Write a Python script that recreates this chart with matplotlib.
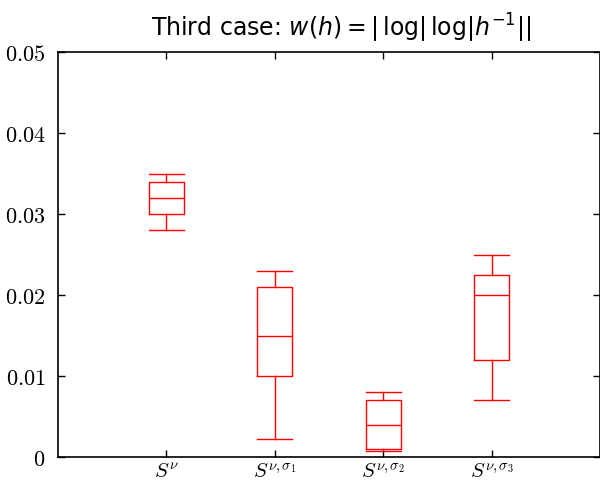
import matplotlib
matplotlib.use("Agg")
import matplotlib.pyplot as plt

plt.rcParams['mathtext.fontset'] = 'cm'

# box statistics
labels = [r'$S^{\nu}$', r'$S^{\nu,\sigma_1}$', r'$S^{\nu,\sigma_2}$', r'$S^{\nu,\sigma_3}$']
whislo = [0.028, 0.0022, 0.0007, 0.007]
q1 = [0.030, 0.010, 0.001, 0.012]
med = [0.032, 0.015, 0.004, 0.020]
q3 = [0.034, 0.021, 0.007, 0.0225]
whishi = [0.035, 0.023, 0.008, 0.025]

yticks = [0, 0.01, 0.02, 0.03, 0.04, 0.05]
ytick_labels = [r'$0$', r'$0.01$', r'$0.02$', r'$0.03$', r'$0.04$', r'$0.05$']

stats = []
for i in range(len(labels)):
    stats.append(dict(label=labels[i], whislo=whislo[i], q1=q1[i], med=med[i],
                      q3=q3[i], whishi=whishi[i], fliers=[]))

fig = plt.figure(figsize=(6.0, 4.85), dpi=100)
ax = fig.add_axes([58 / 600, 1 - 458 / 485, 542 / 600, 405 / 485])

red = dict(color='red', linewidth=1.0)
ax.bxp(stats, positions=[1, 2, 3, 4], widths=0.32, capwidths=0.32,
       boxprops=red, whiskerprops=red, capprops=red, medianprops=red,
       showfliers=False)

ax.set_xlim(0, 5)
ax.set_ylim(0, 0.05)
ax.set_xticks([1, 2, 3, 4])
ax.set_xticklabels(labels, fontsize=15)
ax.set_yticks(yticks)
ax.set_yticklabels(ytick_labels, fontsize=16)
ax.tick_params(direction='in', top=True, right=True, length=5, width=1)
ax.tick_params(axis='x', pad=3)
ax.tick_params(axis='y', pad=9)
for s in ax.spines.values():
    s.set_linewidth(1.2)

ax.set_title(r'Third case: $w(h) = |\,\log|\,\log|h^{-1}||$', fontsize=17,
             math_fontfamily='dejavusans', x=0.522, pad=12)

fig.savefig('out.png', dpi=100)
